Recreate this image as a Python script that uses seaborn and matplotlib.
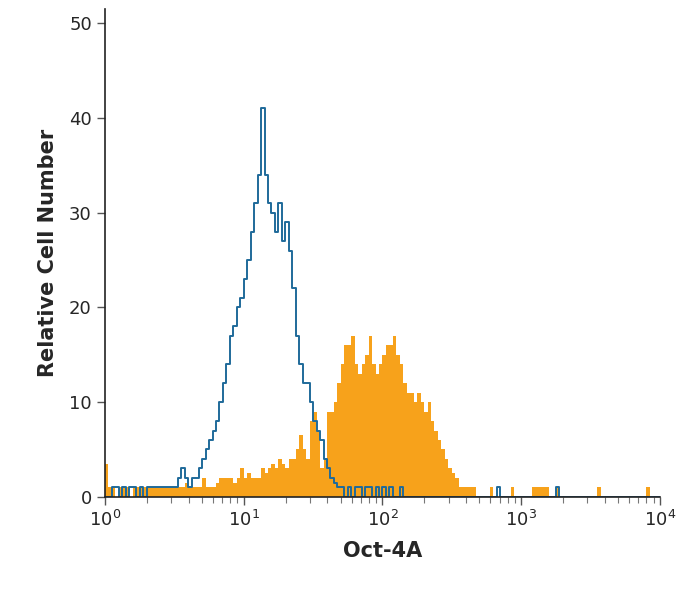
import matplotlib
matplotlib.use("Agg")
import matplotlib.pyplot as plt
import numpy as np
import pandas as pd
import seaborn as sns

# 40 channels per decade over 10^0 .. 10^4
BINS_PER_DECADE = 40

isotype = [0, 0, 1, 1, 0, 1, 0, 1, 1, 0,
           1, 0, 1, 1, 1, 1, 1, 1, 1, 1,
           1, 2, 3, 2, 1, 2, 2, 3, 4, 5,
           6, 7, 8, 10, 12, 14, 17, 18, 20, 21,
           23, 25, 28, 31, 34, 41, 34, 31, 30, 28,
           31, 27, 29, 26, 22, 17, 14, 12, 12, 10,
           8, 7, 6, 4, 3, 2, 1.5, 1, 1, 0,
           1, 0, 1, 1, 0, 1, 1, 0, 1, 0,
           1, 0, 1, 0, 0, 1, 0, 0, 0, 0,
           0, 0, 0, 0, 0, 0, 0, 0, 0, 0,
           0, 0, 0, 0, 0, 0, 0, 0, 0, 0,
           0, 0, 0, 1, 0, 0, 0, 0, 0, 0,
           0, 0, 0, 0, 0, 0, 0, 0, 0, 0,
           1, 0, 0, 0, 0, 0, 0, 0, 0, 0,
           0, 0, 0, 0, 0, 0, 0, 0, 0, 0,
           0, 0, 0, 0, 0, 0, 0, 0, 0, 0]

oct4a = [3.5, 1, 1, 0, 1, 1, 1, 0, 1, 1,
         1, 1, 1, 1, 1, 1, 1, 1, 1, 1,
         1, 1, 1, 1.5, 1, 1, 1, 1, 2, 1,
         1, 1, 1.5, 2, 2, 2, 2, 1.5, 2, 3,
         2, 2.5, 2, 2, 2, 3, 2.5, 3, 3.5, 3,
         4, 3.5, 3, 4, 4, 5, 6.5, 5, 4, 8,
         9, 7, 3, 4, 9, 9, 10, 12, 14, 16,
         16, 17, 14, 13, 14, 15, 17, 14, 13, 14,
         15, 16, 16, 17, 15, 14, 12, 11, 11, 10,
         11, 10, 9, 10, 8, 7, 6, 5, 4, 3,
         2.5, 2, 1, 1, 1, 1, 1, 0, 0, 0,
         0, 1, 0, 0, 0, 0, 0, 1, 0, 0,
         0, 0, 0, 1, 1, 1, 1, 1, 0, 0,
         1, 0, 0, 0, 0, 0, 0, 0, 0, 0,
         0, 0, 1, 0, 0, 0, 0, 0, 0, 0,
         0, 0, 0, 0, 0, 0, 1, 0, 0, 0]

ORANGE = "#F7A21B"
BLUE = "#1F6A9A"


def main():
    sns.set_theme(style="white")
    plt.rcParams["font.family"] = ["DejaVu Sans"]

    n = len(oct4a)
    edges = np.logspace(0, n / BINS_PER_DECADE, n + 1)
    df = pd.DataFrame({
        "center": np.sqrt(edges[:-1] * edges[1:]),
        "oct4a": oct4a,
        "isotype": isotype,
    })

    fig = plt.figure(figsize=(6.91, 5.95), dpi=100)
    ax = fig.add_axes([0.152, 0.165, 0.803, 0.82])

    sns.histplot(data=df, x="center", weights="oct4a", bins=list(edges),
                 element="step", fill=True, color=ORANGE, alpha=1,
                 linewidth=0, ax=ax)
    sns.histplot(data=df, x="center", weights="isotype", bins=list(edges),
                 element="step", fill=False, color=BLUE, linewidth=1.4, ax=ax)

    ax.set_xscale("log")
    ax.set_xlim(1, 1e4)
    ax.set_ylim(0, 51.5)
    ax.set_yticks([0, 10, 20, 30, 40, 50])
    for side in ["top", "right"]:
        ax.spines[side].set_visible(False)
    for side in ["left", "bottom"]:
        ax.spines[side].set_color("#222222")
        ax.spines[side].set_linewidth(1.2)
    ax.tick_params(axis="both", which="major", direction="out", length=6,
                   width=1, color="#555555", labelsize=13, left=True, bottom=True)
    ax.tick_params(axis="x", which="minor", direction="out", length=4,
                   width=0.8, color="#777777", bottom=True)
    ax.set_xlabel("Oct-4A", fontsize=15, fontweight="bold", labelpad=8)
    ax.set_ylabel("Relative Cell Number", fontsize=15, fontweight="bold", labelpad=8)

    fig.savefig("out.png", dpi=100)


if __name__ == "__main__":
    main()
